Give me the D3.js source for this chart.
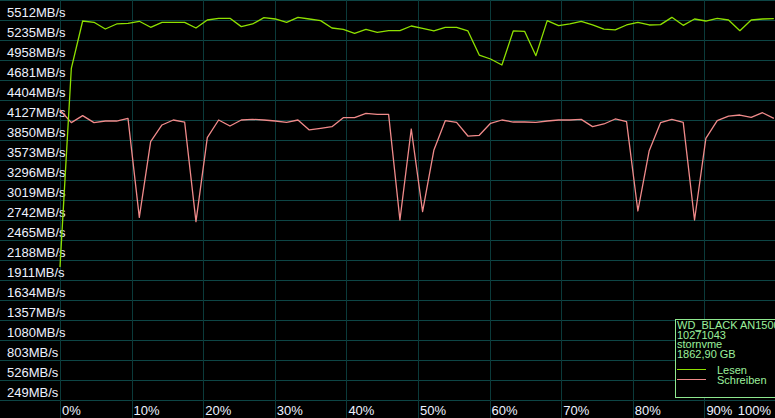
<!DOCTYPE html>
<html><head><meta charset="utf-8">
<script src="https://cdn.jsdelivr.net/npm/d3@7"></script>
<style>html,body{margin:0;padding:0;background:#000;overflow:hidden}svg{display:block}</style>
</head><body>
<script>
// ---- data ----
const yTickValues = [5512,5235,4958,4681,4404,4127,3850,3573,3296,3019,2742,2465,2188,1911,1634,1357,1080,803,526,249];
const xTickValues = [0,10,20,30,40,50,60,70,80,90,100];
const sampleCount = 64;
const lesen = [1842,4594,5249,5231,5138,5208,5217,5245,5162,5231,5231,5231,5152,5263,5286,5286,
  5171,5208,5295,5277,5231,5300,5277,5254,5152,5134,5078,5134,5092,5115,5115,5180,
  5148,5111,5162,5162,5111,4778,4723,4640,5111,5106,4769,5254,5185,5208,5245,5194,
  5138,5125,5194,5231,5194,5199,5300,5189,5277,5249,5286,5263,5115,5263,5277,5281];
const schreiben = [4017,3841,3938,3841,3864,3864,3901,2530,3578,3809,3878,3850,2470,3633,3878,3795,
  3878,3887,3878,3864,3846,3878,3740,3763,3786,3910,3910,3970,3956,3956,2493,3753,
  2608,3463,3869,3846,3656,3666,3832,3878,3850,3850,3846,3864,3878,3878,3887,3786,
  3823,3892,3855,2618,3453,3841,3887,3846,2493,3624,3869,3933,3947,3915,3979,3901];
const legendInfo = ["WD_BLACK AN1500","10271043","stornvme","1862,90 GB"];
const seriesNames = ["Lesen","Schreiben"];
const seriesColors = ["#8ee000","#f08a8a"];

// ---- layout ----
const W = 775, H = 418;
const svg = d3.select("body").append("svg").attr("width", W).attr("height", H)
  .style("font-family", "'Liberation Sans', Arial, sans-serif");
svg.append("rect").attr("width", W).attr("height", H).attr("fill", "#000");

const x = d3.scaleLinear().domain([0, 100]).range([60, 776]);
const y = d3.scaleLinear().domain([0, 5540]).range([400, 0]);
const stepPct = 99.7 / (sampleCount - 1);
const xPos = d3.range(sampleCount).map(k => k * stepPct);

// grid
const gridVals = d3.range(0, 5541, 277);
svg.append("g").selectAll("line").data(gridVals).join("line")
  .attr("x1", 0).attr("x2", W)
  .attr("y1", d => Math.round(y(d)) + 0.5).attr("y2", d => Math.round(y(d)) + 0.5)
  .attr("stroke", "#0d4545").attr("stroke-width", 1);
svg.append("g").selectAll("line").data(xTickValues).join("line")
  .attr("x1", d => Math.round(x(d)) + 0.5).attr("x2", d => Math.round(x(d)) + 0.5)
  .attr("y1", 0).attr("y2", H)
  .attr("stroke", "#0b3a3a").attr("stroke-width", 1);

// y labels
svg.append("g").selectAll("text").data(yTickValues).join("text")
  .attr("x", 7).attr("y", d => y(d) + 14.5)
  .attr("fill", "#eef2ff").attr("font-size", 13)
  .text(d => d + "MB/s");

// x labels
const xl = svg.append("g").selectAll("text").data(xTickValues).join("text")
  .attr("y", 415).attr("fill", "#eef2ff").attr("font-size", 13)
  .text(d => d + "%");
xl.each(function(d) {
  const w = this.getComputedTextLength();
  this.setAttribute("x", Math.min(x(d) + 2, 771 - w));
});

// lines
const line = d3.line().x((d, i) => x(xPos[i])).y(d => y(d));
[schreiben, lesen].forEach((s, j) => {
  svg.append("path").datum(s).attr("d", line)
    .attr("fill", "none").attr("stroke", j === 0 ? seriesColors[1] : seriesColors[0])
    .attr("stroke-width", 1.3).attr("stroke-linejoin", "round");
});

// legend
const lg = svg.append("g");
lg.append("rect").attr("x", 675.5).attr("y", 319.5).attr("width", 110).attr("height", 78)
  .attr("fill", "#000").attr("stroke", "#8fe88f").attr("stroke-width", 1);
lg.selectAll("text.info").data(legendInfo).join("text").attr("class", "info")
  .attr("x", 677).attr("y", (d, i) => 329 + i * 9.6)
  .attr("fill", "#9cf09c").attr("font-size", 11).text(d => d);
seriesNames.forEach((n, i) => {
  lg.append("line").attr("x1", 677).attr("x2", 706)
    .attr("y1", 369.5 + i * 10).attr("y2", 369.5 + i * 10)
    .attr("stroke", seriesColors[i]).attr("stroke-width", 1);
  lg.append("text").attr("x", 717).attr("y", 374 + i * 10)
    .attr("fill", "#9cf09c").attr("font-size", 11).text(n);
});
</script>
</body></html>
